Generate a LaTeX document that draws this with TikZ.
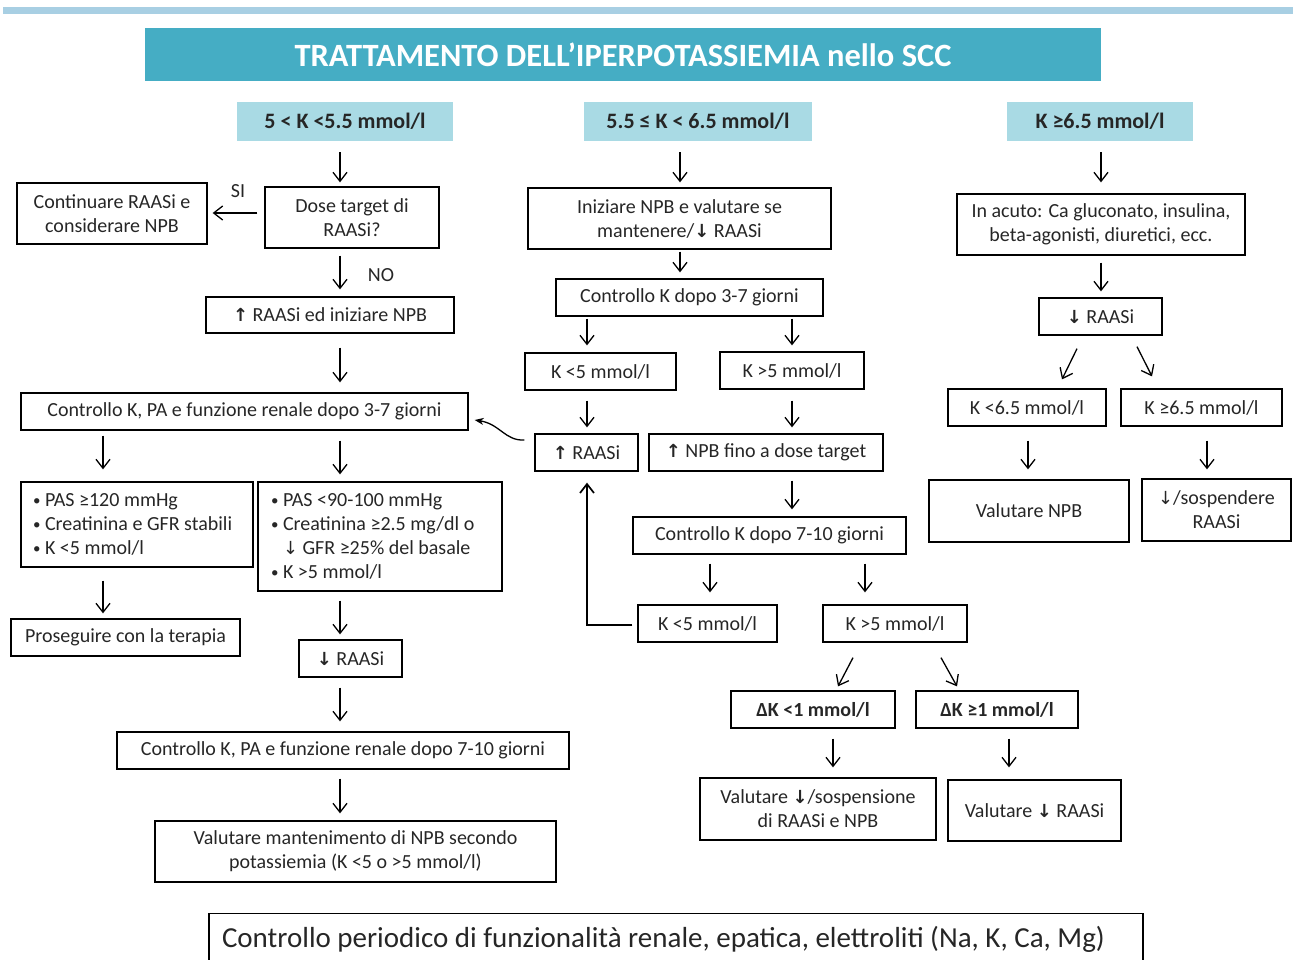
\documentclass[tikz,border=0pt]{standalone}
\usepackage{fontspec}
\setmainfont{Carlito}
\newfontfamily\dejavu{DejaVu Sans}
\usetikzlibrary{arrows.meta,calc}
\definecolor{topbar}{HTML}{A8CFE3}
\definecolor{titlebg}{HTML}{45ADC4}
\definecolor{headbg}{HTML}{A9DAE4}
\definecolor{txt}{HTML}{262626}
\newcommand{\uarr}{{\dejavu\bfseries\fontsize{18}{18}\selectfont ↑}}
\newcommand{\darr}{{\dejavu\bfseries\fontsize{18}{18}\selectfont ↓}}
\newcommand{\darrthin}{{\dejavu\fontsize{18}{18}\selectfont ↓}}
\newcommand{\bul}{\makebox[12pt][l]{\raisebox{1pt}{\scalebox{0.75}{•}}}}
\tikzset{
  box/.style={draw=black, line width=1.3pt, inner sep=0pt, align=center, text=txt,
    font=\fontsize{20}{24}\selectfont},
  head/.style={fill=headbg, inner sep=0pt, text=txt, font=\bfseries\fontsize{22}{24}\selectfont},
  arr/.style={draw=black, line width=1.3pt, -{Straight Barb[length=9pt,width=14pt]}},
  lbl/.style={inner sep=0pt, text=txt, font=\fontsize{20}{24}\selectfont},
}
\begin{document}
\begin{tikzpicture}[x=1pt,y=-1pt]
\useasboundingbox (0,0) rectangle (1296,960);
\fill[topbar] (3,7) rectangle (1293,14);
\node[fill=titlebg, minimum width=956pt, minimum height=53pt, inner sep=0pt, text=white,
  font=\bfseries\fontsize{32.5}{34}\selectfont] (title) at (623,54.5) {TRATTAMENTO DELL’IPERPOTASSIEMIA nello SCC};

% headers
\node[head, minimum width=216pt, minimum height=39pt] (h1) at (345,121.5) {\raisebox{-2pt}{5 < K <5.5 mmol/l}};
\node[head, minimum width=228pt, minimum height=39pt] (h2) at (698,121.5) {\raisebox{-2pt}{5.5 ≤ K < 6.5 mmol/l}};
\node[head, minimum width=186pt, minimum height=39pt] (h3) at (1100,121.5) {\raisebox{-2pt}{K ≥6.5 mmol/l}};

% left column
\node[box, minimum width=174pt, minimum height=61pt] (dose) at (352,217.5) {Dose target di\\RAASi?};
\node[box, minimum width=190pt, minimum height=61pt] (cont) at (112,213.5) {Continuare RAASi e\\considerare NPB};
\node[box, minimum width=248pt, minimum height=36pt] (raasi1) at (330,315) {\uarr{} RAASi ed iniziare NPB};
\node[box, minimum width=447pt, minimum height=37pt] (ctrl1) at (244.5,411.5) {Controllo K, PA e funzione renale dopo 3-7 giorni};
\node[box, minimum width=232pt, minimum height=85pt, text width=208pt, align=flush left, inner xsep=12pt] (bulL) at (137,524.5)
  {\bul PAS ≥120 mmHg\\\bul Creatinina e GFR stabili\\\bul K <5 mmol/l};
\node[box, minimum width=244pt, minimum height=109pt, text width=218pt, align=flush left, inner xsep=13pt] (bulR) at (380,536.5)
  {\bul PAS <90-100 mmHg\\\bul Creatinina ≥2.5 mg/dl o\\\hspace*{12pt}\darrthin{} GFR ≥25\% del basale\\\bul K >5 mmol/l};
\node[box, minimum width=229pt, minimum height=37pt] (pros) at (125.5,637.5) {Proseguire con la terapia};
\node[box, minimum width=103pt, minimum height=37pt] (dnR1) at (350.5,658.5) {\darr{} RAASi};
\node[box, minimum width=452pt, minimum height=37pt] (ctrl2) at (343,750.5) {Controllo K, PA e funzione renale dopo 7-10 giorni};
\node[box, minimum width=401pt, minimum height=61pt] (valm) at (355.5,851.5) {Valutare mantenimento di NPB secondo\\potassiemia (K <5 o >5 mmol/l)};
\node[box, minimum width=934pt, minimum height=52pt, text width=908pt, inner xsep=13pt, align=flush left, anchor=north,
  font=\fontsize{29}{30}\selectfont] (bot) at (676,913)
  {Controllo periodico di funzionalità renale, epatica, elettroliti (Na, K, Ca, Mg)};

% middle column
\node[box, minimum width=303pt, minimum height=61pt] (init) at (679.5,218.5) {Iniziare NPB e valutare se\\mantenere/\darr{} RAASi};
\node[box, minimum width=267pt, minimum height=37pt] (ctrlK) at (689.5,297.5) {Controllo K dopo 3-7 giorni};
\node[box, minimum width=151pt, minimum height=37pt] (kl1) at (600.5,371.5) {K <5 mmol/l};
\node[box, minimum width=144pt, minimum height=37pt] (kg1) at (792,370.5) {K >5 mmol/l};
\node[box, minimum width=103pt, minimum height=37pt] (upR) at (586.5,452.5) {\uarr{} RAASi};
\node[box, minimum width=234pt, minimum height=37pt] (upN) at (766,452.5) {\uarr{} NPB fino a dose target};
\node[box, minimum width=273pt, minimum height=37pt] (ctrlK2) at (769.5,535.5) {Controllo K dopo 7-10 giorni};
\node[box, minimum width=139pt, minimum height=37pt] (kl2) at (707.5,623.5) {K <5 mmol/l};
\node[box, minimum width=144pt, minimum height=37pt] (kg2) at (895,623.5) {K >5 mmol/l};
\node[box, minimum width=164pt, minimum height=37pt, font=\bfseries\fontsize{20}{24}\selectfont] (dk1) at (813,709.5) {ΔK <1 mmol/l};
\node[box, minimum width=162pt, minimum height=37pt, font=\bfseries\fontsize{20}{24}\selectfont] (dk2) at (997,709.5) {ΔK ≥1 mmol/l};
\node[box, minimum width=236pt, minimum height=62pt] (vs) at (818,809) {Valutare \darr/sospensione\\di RAASi e NPB};
\node[box, minimum width=173pt, minimum height=61pt] (vr) at (1034.5,810.5) {Valutare \darr{} RAASi};

% right column
\node[box, minimum width=288pt, minimum height=61pt] (acuto) at (1101,224.5) {In acuto: Ca gluconato, insulina,\\beta-agonisti, diuretici, ecc.};
\node[box, minimum width=123pt, minimum height=37pt] (dnR) at (1100.5,316.5) {\darr{} RAASi};
\node[box, minimum width=158pt, minimum height=37pt] (kl65) at (1027,407.5) {K <6.5 mmol/l};
\node[box, minimum width=161pt, minimum height=37pt] (kg65) at (1201.5,407.5) {K ≥6.5 mmol/l};
\node[box, minimum width=200pt, minimum height=62pt] (vnpb) at (1029,511) {Valutare NPB};
\node[box, minimum width=149pt, minimum height=62pt] (sosp) at (1216.5,510) {\darrthin/sospendere\\RAASi};

% labels
\node[lbl] (si) at (238,191) {SI};
\node[lbl] (no) at (381,275) {NO};

% arrows left
\draw[arr, shorten <=11pt, shorten >=4pt] (h1.south -| 340,0) -- (dose.north -| 340,0);
\draw[arr, shorten <=7pt, shorten >=5pt] (dose.west |- 0,213) -- (cont.east |- 0,213);
\draw[arr, shorten <=7pt, shorten >=7pt] (dose.south -| 340,0) -- (raasi1.north -| 340,0);
\draw[arr, shorten <=14pt, shorten >=10pt] (raasi1.south -| 340,0) -- (ctrl1.north -| 340,0);
\draw[arr, shorten <=5pt, shorten >=12pt] (ctrl1.south -| 103,0) -- (bulL.north -| 103,0);
\draw[arr, shorten <=10pt, shorten >=7pt] (ctrl1.south -| 340,0) -- (bulR.north -| 340,0);
\draw[arr, shorten <=13pt, shorten >=5pt] (bulL.south -| 103,0) -- (pros.north -| 103,0);
\draw[arr, shorten <=9pt, shorten >=5pt] (bulR.south -| 340,0) -- (dnR1.north -| 340,0);
\draw[arr, shorten <=10pt, shorten >=10pt] (dnR1.south -| 340,0) -- (ctrl2.north -| 340,0);
\draw[arr, shorten <=9pt, shorten >=7pt] (ctrl2.south -| 340,0) -- (valm.north -| 340,0);

% arrows middle
\draw[arr, shorten <=11pt, shorten >=5pt] (h2.south -| 680,0) -- (init.north -| 680,0);
\draw[arr, shorten <=2pt, shorten >=6pt] (init.south -| 680,0) -- (ctrlK.north -| 680,0);
\draw[arr, shorten <=2pt, shorten >=7pt] (ctrlK.south -| 587,0) -- (kl1.north -| 587,0);
\draw[arr, shorten <=2pt, shorten >=6pt] (ctrlK.south -| 792,0) -- (kg1.north -| 792,0);
\draw[arr, shorten <=10pt, shorten >=6pt] (kl1.south -| 587,0) -- (upR.north -| 587,0);
\draw[arr, shorten <=11pt, shorten >=6pt] (kg1.south -| 792,0) -- (upN.north -| 792,0);
\draw[line width=1.3pt, -{Stealth[length=9pt,width=7pt]}]
  ($(upR.west)+(-10,-12.5)$) .. controls (505,441) and (500,424) .. ($(ctrl1.east)+(6,8.5)$);
\draw[arr, shorten <=9pt, shorten >=7pt] (upN.south -| 792,0) -- (ctrlK2.north -| 792,0);
\draw[arr, shorten <=9pt, shorten >=12pt] (ctrlK2.south -| 710,0) -- (kl2.north -| 710,0);
\draw[arr, shorten <=9pt, shorten >=12pt] (ctrlK2.south -| 865,0) -- (kg2.north -| 865,0);
\draw[arr, line width=1.7pt, shorten <=5pt, shorten >=11pt] (kl2.west |- 0,625) -| (upR.south -| 587,0);
\draw[arr] ($(kg2.south)+(-42,15)$) -- ($(dk1.north)+(25,-4)$);
\draw[arr] ($(kg2.south)+(46,15)$) -- ($(dk2.north)+(-40,-4)$);
\draw[arr, shorten <=10pt, shorten >=10pt] (dk1.south -| 833,0) -- (vs.north -| 833,0);
\draw[arr, shorten <=10pt, shorten >=12pt] (dk2.south -| 1009,0) -- (vr.north -| 1009,0);

% arrows right
\draw[arr, shorten <=11pt, shorten >=11pt] (h3.south -| 1101,0) -- (acuto.north -| 1101,0);
\draw[arr, shorten <=7pt, shorten >=6pt] (acuto.south -| 1101,0) -- (dnR.north -| 1101,0);
\draw[arr] ($(dnR.south)+(-23.5,13)$) -- ($(kl65.north)+(35,-9)$);
\draw[arr] ($(dnR.south)+(36.5,11)$) -- ($(kg65.north)+(-49.5,-12)$);
\draw[arr, shorten <=14pt, shorten >=10pt] (kl65.south -| 1028,0) -- (vnpb.north -| 1028,0);
\draw[arr, shorten <=14pt, shorten >=9pt] (kg65.south -| 1207,0) -- (sosp.north -| 1207,0);
\end{tikzpicture}
\end{document}
